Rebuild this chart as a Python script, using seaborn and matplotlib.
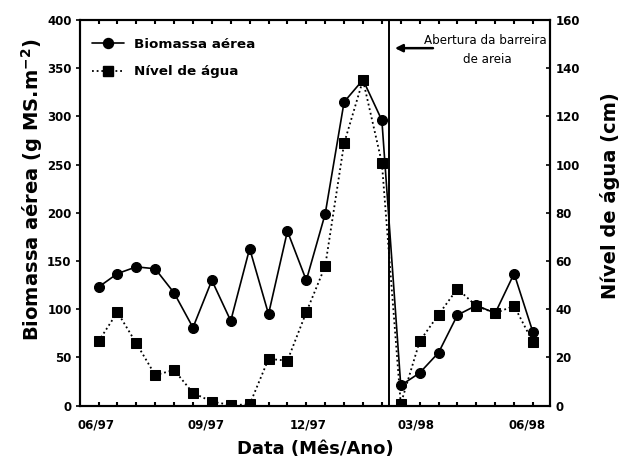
import numpy as np
import pandas as pd
import matplotlib
matplotlib.use("Agg")
import matplotlib.pyplot as plt
import seaborn as sns
from matplotlib.lines import Line2D

# ---- data ----
amostra = list(range(24))  # sampling occasions (approx. fortnightly, 06/97 - 06/98)
biomassa = [123, 137, 144, 142, 117, 81, 130, 88, 163, 95, 181, 130,
            199, 315, 338, 296, 21, 34, 55, 94, 104, 96, 137, 76]
nivel_agua = [26.7, 38.8, 25.9, 12.7, 14.8, 5.3, 1.7, 0.3, 0.5, 19.4, 18.7, 38.8,
              57.9, 108.8, 135.1, 100.7, 0.7, 26.7, 37.8, 48.5, 41.4, 38.4, 41.4, 26.3]
mes_labels = ["06/97", "09/97", "12/97", "03/98", "06/98"]
mes_pos = [-0.13, 5.71, 11.08, 16.8, 22.66]
abertura_barra = 15.4  # sand-bar opening, between samples 15 and 16

df = pd.DataFrame({"amostra": amostra, "biomassa": biomassa, "nivel": nivel_agua})

sns.set_theme(style="ticks")
plt.rcParams["font.family"] = ["DejaVu Sans"]
plt.rcParams["font.weight"] = "bold"
for k in ("text.color", "axes.labelcolor", "xtick.color", "ytick.color", "axes.edgecolor"):
    plt.rcParams[k] = "black"

fig = plt.figure(figsize=(6.19, 4.59), dpi=100)
ax = fig.add_axes([80 / 619, 1 - 405.7 / 459, 470 / 619, 385.7 / 459])
ax2 = ax.twinx()

sns.lineplot(data=df, x="amostra", y="biomassa", ax=ax, color="black",
             linewidth=1.2, marker="o", markersize=7.2,
             markeredgecolor="black", markerfacecolor="black", legend=False)
sns.lineplot(data=df, x="amostra", y="nivel", ax=ax2, color="black",
             linewidth=1.3, linestyle=(0, (1, 1.6)), marker="s", markersize=7.9,
             markeredgecolor="black", markerfacecolor="black", legend=False)

ax.axvline(abertura_barra, color="black", linewidth=1.4)

ax.set_xlim(-0.98, 23.9)
ax.set_ylim(0, 400)
ax2.set_ylim(0, 160)

ax.set_xticks(mes_pos)
ax.set_xticklabels(mes_labels)
ax.set_xticks(amostra, minor=True)
ax.tick_params(axis="x", which="major", length=0, pad=9, labelsize=8.5,
               colors="black", bottom=True)
ax.tick_params(axis="x", which="minor", direction="in", length=3, width=1.5,
               top=True, bottom=True, color="black")
ax.set_yticks(range(0, 401, 50))
ax.tick_params(axis="y", which="major", direction="out", length=3, width=1.2,
               labelsize=8.5, pad=3, left=True, colors="black")
ax.tick_params(axis="y", which="minor", left=False, right=False)
ax2.set_yticks(range(0, 161, 20))
ax2.tick_params(axis="y", which="major", direction="in", length=3, width=1.2,
                labelsize=8.5, pad=4, right=True, colors="black")
ax2.tick_params(axis="y", which="minor", left=False, right=False)

for a in (ax, ax2):
    for s in a.spines.values():
        s.set_color("black")
        s.set_linewidth(1.5)
        s.set_visible(True)

ax.set_xlabel("Data (Mês/Ano)", fontsize=13, fontweight="bold")
ax.xaxis.set_label_coords(0.5, -0.088)
ax.set_ylabel("Biomassa aérea (g MS.m$^{\\mathbf{-2}}$)", fontsize=14, fontweight="bold")
ax.yaxis.set_label_coords(-0.075, 0.559)
ax2.set_ylabel("Nível de água (cm)", fontsize=14, fontweight="bold")
ax2.yaxis.set_label_coords(1.106, 0.544)

# legend
h1 = Line2D([], [], color="black", linewidth=1.2, marker="o", markersize=7.2)
h2 = Line2D([], [], color="black", linewidth=1.3, linestyle=(0, (1, 1.6)),
            marker="s", markersize=7.9)
leg = ax2.legend([h1, h2], ["Biomassa aérea", "Nível de água"], loc="upper left",
                 bbox_to_anchor=(0.025, 0.953), frameon=False, fontsize=9.7,
                 handlelength=2.4, handletextpad=0.75, labelspacing=1.05,
                 borderaxespad=0, borderpad=0)
for t in leg.get_texts():
    t.set_fontweight("bold")
    t.set_color("black")

# annotation: sand-bar opening
ax2.annotate("", xy=(0.67, 0.927), xytext=(0.751, 0.927),
             xycoords="axes fraction", textcoords="axes fraction",
             arrowprops=dict(arrowstyle="-|>", color="black", lw=1.8,
                             mutation_scale=11, shrinkA=0, shrinkB=0))
ax2.text(0.862, 0.946, "Abertura da barreira", transform=ax2.transAxes,
         ha="center", va="center", fontsize=8.6, fontweight="normal", color="black")
ax2.text(0.866, 0.898, "de areia", transform=ax2.transAxes,
         ha="center", va="center", fontsize=8.6, fontweight="normal", color="black")

fig.savefig("out.png", dpi=100)
